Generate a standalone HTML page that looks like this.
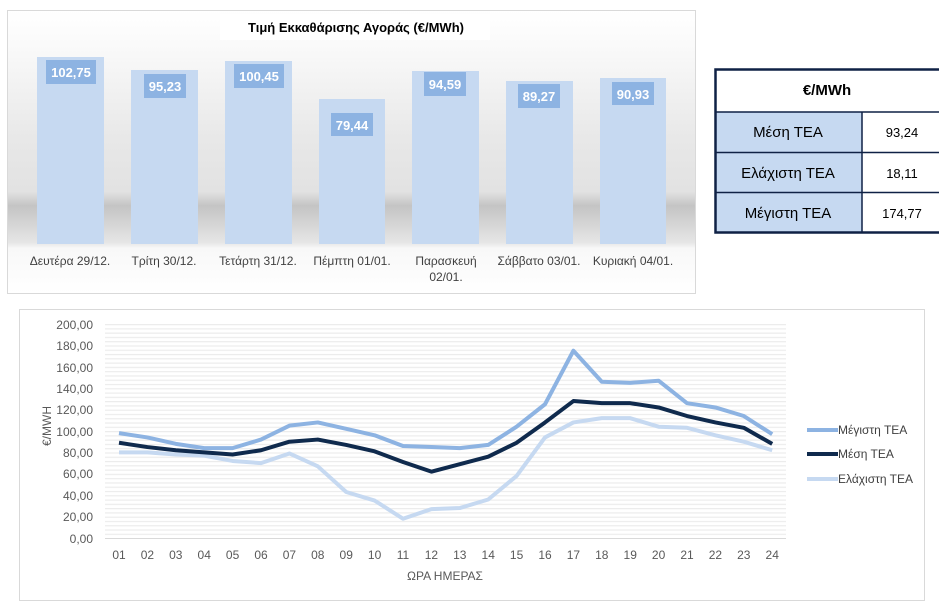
<!DOCTYPE html>
<html><head><meta charset="utf-8"><style>
body{margin:0;width:939px;height:603px;background:#fff;overflow:hidden;font-family:"Liberation Sans",sans-serif;}
</style></head><body>
<svg width="939" height="603" xmlns="http://www.w3.org/2000/svg" font-family="Liberation Sans, DejaVu Sans, sans-serif">
<defs>
<linearGradient id="bg" x1="0" y1="0" x2="0" y2="1">
<stop offset="0" stop-color="#ffffff"/>
<stop offset="0.12" stop-color="#fafafa"/>
<stop offset="0.45" stop-color="#e8e8e8"/>
<stop offset="0.64" stop-color="#e2e2e2"/>
<stop offset="0.69" stop-color="#c4c4c4"/>
<stop offset="0.82" stop-color="#e6e6e6"/>
<stop offset="0.84" stop-color="#f8f8f8"/>
<stop offset="1" stop-color="#ffffff"/>
</linearGradient>
<pattern id="grid" x="0" y="0" width="10" height="4.28" patternUnits="userSpaceOnUse" patternTransform="translate(0,324)">
<rect x="0" y="0" width="10" height="1.2" fill="#ececec"/>
</pattern>
</defs>
<rect x="7.5" y="10.5" width="688" height="283" fill="url(#bg)" stroke="#d9d9d9"/>
<rect x="220" y="14" width="270" height="26" fill="#fff"/>
<text x="356" y="32" font-size="13" font-weight="bold" text-anchor="middle" fill="#000">Τιμή Εκκαθάρισης Αγοράς (€/MWh)</text>
<g fill="#c6d9f1">
<rect x="37" y="57" width="67" height="187"/>
<rect x="131" y="70" width="67" height="174"/>
<rect x="225" y="61" width="67" height="183"/>
<rect x="319" y="99" width="66" height="145"/>
<rect x="412" y="71" width="67" height="173"/>
<rect x="506" y="81" width="67" height="163"/>
<rect x="600" y="78" width="66" height="166"/>
</g>
<g fill="#8db3e2">
<rect x="46" y="60" width="50" height="24"/>
<rect x="144" y="74" width="42" height="24"/>
<rect x="234" y="64" width="50" height="24"/>
<rect x="331" y="113" width="42" height="23"/>
<rect x="424" y="72" width="42" height="24"/>
<rect x="518" y="84" width="42" height="24"/>
<rect x="612" y="82" width="42" height="23"/>
</g>
<g font-size="13" font-weight="bold" fill="#fff" text-anchor="middle">
<text x="71" y="77">102,75</text>
<text x="165" y="91">95,23</text>
<text x="259" y="81">100,45</text>
<text x="352" y="130">79,44</text>
<text x="445" y="89">94,59</text>
<text x="539" y="101">89,27</text>
<text x="633" y="99">90,93</text>
</g>
<g font-size="12" fill="#404040" text-anchor="middle">
<text x="70" y="265">Δευτέρα 29/12.</text>
<text x="164" y="265">Τρίτη 30/12.</text>
<text x="258" y="265">Τετάρτη 31/12.</text>
<text x="352" y="265">Πέμπτη 01/01.</text>
<text x="446" y="265">Παρασκευή</text>
<text x="446" y="281">02/01.</text>
<text x="539" y="265">Σάββατο 03/01.</text>
<text x="633" y="265">Κυριακή 04/01.</text>
</g>
<rect x="714" y="69" width="226" height="164" fill="#fff"/>
<rect x="715" y="112" width="147" height="120" fill="#c6d9f1"/>
<g stroke="#0f2145" fill="none">
<rect x="715.5" y="69.5" width="230" height="163" stroke-width="2.5"/>
<line x1="715" y1="112" x2="939" y2="112" stroke-width="1.5"/>
<line x1="715" y1="152.5" x2="939" y2="152.5" stroke-width="1.5"/>
<line x1="715" y1="192.5" x2="939" y2="192.5" stroke-width="1.5"/>
<line x1="862" y1="112" x2="862" y2="233" stroke-width="1.5"/>
</g>
<g font-size="15" fill="#000" text-anchor="middle">
<text x="827" y="95" font-weight="bold">€/MWh</text>
<text x="788" y="137">Μέση ΤΕΑ</text>
<text x="788" y="178">Ελάχιστη ΤΕΑ</text>
<text x="788" y="218">Μέγιστη ΤΕΑ</text>
</g>
<g font-size="13" fill="#000" text-anchor="middle">
<text x="902" y="137">93,24</text>
<text x="902" y="178">18,11</text>
<text x="902" y="218">174,77</text>
</g>
<rect x="19.5" y="309.5" width="905" height="291" fill="#fff" stroke="#d9d9d9"/>
<rect x="105" y="323" width="681" height="215" fill="url(#grid)"/>
<line x1="105" y1="538.5" x2="786" y2="538.5" stroke="#d9d9d9"/>
<g font-size="12" fill="#595959" text-anchor="end">
<text x="93" y="329">200,00</text><text x="93" y="350">180,00</text><text x="93" y="372">160,00</text>
<text x="93" y="393">140,00</text><text x="93" y="414">120,00</text><text x="93" y="436">100,00</text>
<text x="93" y="457">80,00</text><text x="93" y="478">60,00</text><text x="93" y="500">40,00</text>
<text x="93" y="521">20,00</text><text x="93" y="543">0,00</text>
</g>
<text transform="translate(51,426) rotate(-90)" font-size="12" fill="#595959" text-anchor="middle">€/MWH</text>
<g font-size="12" fill="#595959" text-anchor="middle" id="xl"></g>
<text x="445" y="580" font-size="12" fill="#595959" text-anchor="middle">ΩΡΑ ΗΜΕΡΑΣ</text>
<g id="lines" fill="none" stroke-width="4" stroke-linejoin="round"></g>
<g stroke-width="4">
<line x1="807" y1="430" x2="838" y2="430" stroke="#8db3e2"/>
<line x1="807" y1="454" x2="838" y2="454" stroke="#0f2a4d"/>
<line x1="807" y1="479" x2="838" y2="479" stroke="#c6d9f1"/>
</g>
<g font-size="12" fill="#404040">
<text x="838" y="434">Μέγιστη ΤΕΑ</text>
<text x="838" y="458">Μέση ΤΕΑ</text>
<text x="838" y="483">Ελάχιστη ΤΕΑ</text>
</g>
</svg>
<script>
var ns="http://www.w3.org/2000/svg";
function X(i){return 119+i*28.4;}
function Y(v){return 538-v*1.07;}
var xl=document.getElementById('xl');
for(var i=0;i<24;i++){var t=document.createElementNS(ns,'text');t.setAttribute('x',X(i));t.setAttribute('y',559);t.textContent=(i<9?'0':'')+(i+1);xl.appendChild(t);}
var mx=[98,94,88,84,84,92,105,108,102,96,86,85,84,87,104,125,175,146,145,147,126,122,114,97];
var me=[89,85,82,80,78,82,90,92,87,81,71,62,69,76,89,108,128,126,126,122,114,108,103,88];
var mn=[80,80,78,77,72,70,79,67,43,35,18,27,28,36,58,94,108,112,112,104,103,96,90,82];
var g=document.getElementById('lines');
[[mn,'#c6d9f1'],[mx,'#8db3e2'],[me,'#0f2a4d']].forEach(function(s){
var p=document.createElementNS(ns,'polyline');
p.setAttribute('points',s[0].map(function(v,i){return X(i)+','+Y(v);}).join(' '));
p.setAttribute('stroke',s[1]);g.appendChild(p);});
</script>
</body></html>
